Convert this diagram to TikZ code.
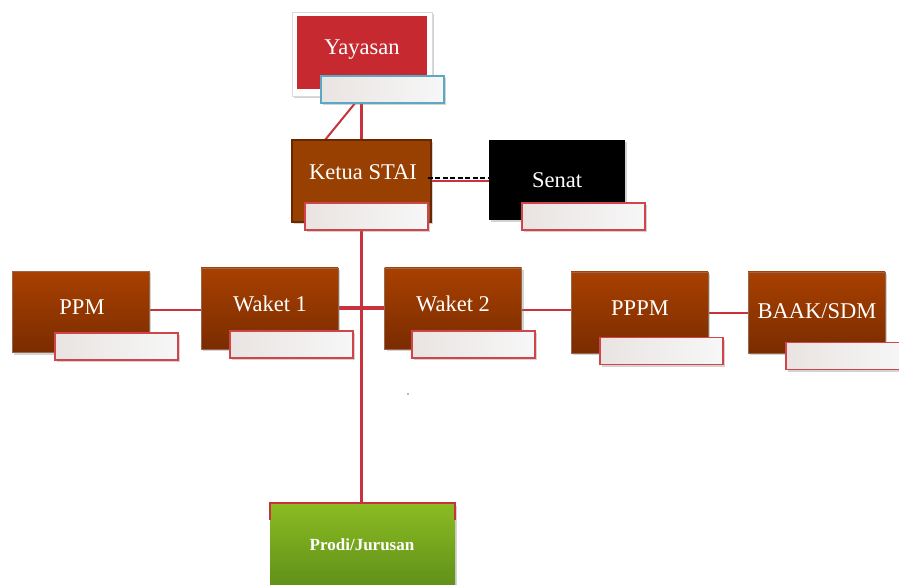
\documentclass[tikz,border=0pt]{standalone}
\usepackage{fontspec}
\setmainfont{Liberation Serif}
\usetikzlibrary{shadows,backgrounds,calc}
\definecolor{linkred}{HTML}{C8323A}
\definecolor{tagred}{HTML}{D0454A}
\definecolor{tagblue}{HTML}{5AA8C4}
\definecolor{tagA}{HTML}{E9E4E2}
\definecolor{tagB}{HTML}{F7F7F7}
\definecolor{brTop}{HTML}{A84000}
\definecolor{brBot}{HTML}{7A2C00}
\definecolor{brEdge}{HTML}{6A2800}
\definecolor{ketuafill}{HTML}{983F02}
\definecolor{yred}{HTML}{C62A30}
\definecolor{grTop}{HTML}{8BBB22}
\definecolor{grBot}{HTML}{5E8E18}
\tikzset{
  shadowed/.style={drop shadow={shadow xshift=2pt,shadow yshift=-2pt,opacity=0.35}},
  orgbox/.style={draw=brEdge!70,line width=0.6pt,top color=brTop,bottom color=brBot,
    minimum width=137pt,minimum height=81pt,inner sep=0pt,shadowed},
  tagbox/.style={draw=tagred,line width=1.1pt,left color=tagA,right color=tagB,
    minimum width=123pt,minimum height=27pt,inner sep=0pt,shadowed},
  lbl/.style={text=white,font=\fontsize{22.5}{26}\selectfont,inner sep=0pt},
  link/.style={draw=linkred,line width=2.4pt},
  thinlink/.style={draw=linkred,line width=2pt},
}
\begin{document}
\begin{tikzpicture}[x=1pt,y=-1pt]
\useasboundingbox (0,0) rectangle (899,585);
% Yayasan
\node[draw=black!15,line width=0.5pt,fill=white,minimum width=140pt,minimum height=84pt,shadowed] (yframe) at (362,54) {};
\node[fill=yred,minimum width=130pt,minimum height=73pt,inner sep=0pt] (ya) at (362,52.5) {};
\node[lbl] (tya) at (362,50) {Yayasan};
\node[tagbox,draw=tagblue] (ytag) at (382.5,89.5) {};
% Ketua
\node[draw=brEdge,line width=1.4pt,fill=ketuafill,minimum width=139pt,minimum height=82pt,inner sep=0pt,shadowed] (kt) at (361.5,181) {};
\node[lbl] (tkt) at (363,172) {Ketua STAI};
\node[tagbox] (kttag) at (366.5,216.5) {};
% Senat
\node[fill=black,minimum width=136pt,minimum height=80pt,inner sep=0pt,shadowed] (sn) at (557,180) {};
\node[lbl] (tsn) at (557,180) {Senat};
\node[tagbox] (sntag) at (583.5,216.5) {};
% second row
\node[orgbox] (ppm) at (80.5,312) {};
\node[lbl] (tppm) at (82,307) {PPM};
\node[tagbox] (ppmtag) at (116.5,346.5) {};
\node[orgbox] (w1) at (269.5,308.5) {};
\node[lbl] (tw1) at (270,304) {Waket 1};
\node[tagbox] (w1tag) at (291.5,344.5) {};
\node[orgbox] (w2) at (453,308.5) {};
\node[lbl] (tw2) at (453,304) {Waket 2};
\node[tagbox] (w2tag) at (473.5,344.5) {};
\node[orgbox] (pppm) at (639.5,312.5) {};
\node[lbl] (tpppm) at (640,308) {PPPM};
\node[tagbox] (pppmtag) at (661.5,351) {};
\node[orgbox] (baak) at (816.5,312.5) {};
\node[lbl] (tbaak) at (817,311) {BAAK/SDM};
\node[tagbox] (baaktag) at (847.5,356) {};
% Prodi
\node[draw=none,top color=grTop,bottom color=grBot,minimum width=185pt,minimum height=86pt,inner sep=0pt,shadowed] (pr) at (362.5,547) {};
\node[text=white,font=\bfseries\fontsize{17}{20}\selectfont] (tpr) at (362,545) {Prodi/Jurusan};
% dot
\node[circle,fill=black!55,inner sep=0pt,minimum size=1.6pt] (dot) at (408,394) {};
% connectors
\coordinate (d1) at (325,140);
\coordinate (d2) at (356,102);
\coordinate (dy) at (0,178);
\coordinate (ry) at (0,181);
\coordinate (ha) at (0,310);
\coordinate (hb) at (0,308);
\coordinate (hc) at (0,313);
\coordinate (pl) at (270,503);
\coordinate (pr2) at (455,503);
\begin{scope}[on background layer]
\draw[link] (kt.north) -- (kt.north |- ytag.south);
\draw[thinlink] (d1) -- (d2);
\draw[link] (kt.south) -- (kt.south |- pl);
\draw[link] (ppm.east |- ha) -- (w1.west |- ha);
\draw[link,line width=3.4pt] (w1.east |- hb) -- (w2.west |- hb);
\draw[link] (w2.east |- ha) -- (pppm.west |- ha);
\draw[link] (pppm.east |- hc) -- (baak.west |- hc);
\draw[thinlink] (kt.east |- ry) -- (sn.west |- ry);
\end{scope}
\draw[black,line width=1.5pt,dash pattern=on 5pt off 2.5pt] ($(kt.east |- dy)+(-4,0)$) -- (sn.west |- dy);
\draw[linkred,line width=2pt] ($(pl)+(0,17)$) -- (pl) -- (pr2) -- ++(0,17);
\end{tikzpicture}
\end{document}
